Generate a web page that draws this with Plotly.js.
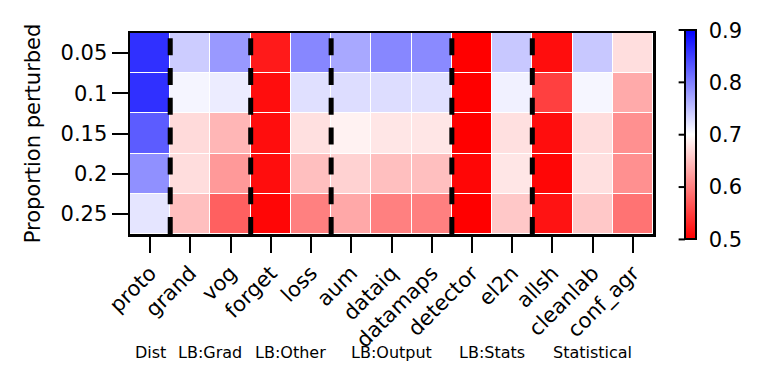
<!DOCTYPE html>
<html>
<head>
<meta charset="utf-8">
<script src="https://cdn.plot.ly/plotly-3.0.1.min.js"></script>
<style>
  html, body { margin: 0; padding: 0; background: #fff; }
</style>
</head>
<body>
<div id="chart" style="width:762px;height:382px;"></div>
<script>
var methods = ['proto', 'grand', 'vog', 'forget', 'loss', 'aum', 'dataiq', 'datamaps',
               'detector', 'el2n', 'allsh', 'cleanlab', 'conf_agr'];
var proportions = ['0.05', '0.1', '0.15', '0.2', '0.25'];

// one row per proportion perturbed, same order as methods
var p05 = [0.862, 0.740, 0.780, 0.520, 0.794, 0.768, 0.794, 0.792, 0.500, 0.743, 0.510, 0.743, 0.674];
var p10 = [0.862, 0.708, 0.715, 0.510, 0.724, 0.727, 0.727, 0.724, 0.500, 0.711, 0.550, 0.707, 0.633];
var p15 = [0.828, 0.671, 0.643, 0.510, 0.676, 0.690, 0.680, 0.680, 0.500, 0.676, 0.510, 0.673, 0.613];
var p20 = [0.787, 0.673, 0.620, 0.510, 0.650, 0.665, 0.650, 0.650, 0.505, 0.680, 0.505, 0.676, 0.613];
var p25 = [0.720, 0.650, 0.575, 0.505, 0.600, 0.632, 0.600, 0.600, 0.500, 0.657, 0.515, 0.657, 0.590];

var groupNames = ['Dist', 'LB:Grad', 'LB:Other', 'LB:Output', 'LB:Stats', 'Statistical'];
var groupSizes = [1, 2, 2, 3, 2, 3];

var cbTicks = [0.5, 0.6, 0.7, 0.8, 0.9];
var zmin = 0.5, zmax = 0.9;

var font = 'DejaVu Sans, sans-serif';

// colorbar placement (paper units)
var cbX = 1.061, cbLen = 1.042, cbMid = 0.494;
var cbBottom = cbMid - cbLen / 2;

// separators and group label positions (in category index units)
var shapes = [];
var annotations = [];
var start = 0;
for (var i = 0; i < groupSizes.length; i++) {
  var end = start + groupSizes[i];
  annotations.push({
    x: (start + end - 1) / 2, xref: 'x',
    y: -0.59, yref: 'paper', yanchor: 'middle',
    text: groupNames[i], showarrow: false,
    font: {family: font, size: 16, color: 'black'}
  });
  if (i < groupSizes.length - 1) {
    shapes.push({
      type: 'line', xref: 'x', yref: 'paper',
      x0: end - 0.5, x1: end - 0.5, y0: 0, y1: 1,
      line: {color: 'black', width: 5, dash: '17px,12.8px'}
    });
  }
  start = end;
}

// colorbar ticks sit on the left side of the bar, like matplotlib
cbTicks.forEach(function (v) {
  var yy = cbBottom + (v - zmin) / (zmax - zmin) * cbLen;
  shapes.push({
    type: 'line', xref: 'paper', yref: 'paper',
    x0: cbX - 0.012, x1: cbX, y0: yy, y1: yy,
    line: {color: 'black', width: 2}
  });
});

var trace = {
  type: 'heatmap',
  x: methods,
  y: proportions,
  z: [p05, p10, p15, p20, p25],
  zmin: zmin, zmax: zmax,
  colorscale: [[0, 'rgb(255,0,0)'], [0.5, 'rgb(255,255,255)'], [1, 'rgb(0,0,255)']],
  xgap: 1, ygap: 1,
  colorbar: {
    x: cbX, xanchor: 'left', xpad: 0,
    y: cbMid, yanchor: 'middle', len: cbLen, lenmode: 'fraction',
    thickness: 11, ypad: 0,
    outlinewidth: 2, outlinecolor: 'black',
    tickvals: cbTicks, ticktext: cbTicks.map(function (v) { return v.toFixed(1); }),
    ticks: 'outside', ticklen: 8, tickwidth: 2, tickcolor: 'rgba(0,0,0,0)',
    tickfont: {family: font, size: 21, color: 'black'}
  }
};

var layout = {
  width: 762, height: 382,
  margin: {l: 130, r: 109, t: 33, b: 148, pad: 0},
  paper_bgcolor: 'white', plot_bgcolor: 'white',
  font: {family: font, size: 21, color: 'black'},
  xaxis: {
    type: 'category', tickangle: -45,
    ticks: 'outside', ticklen: 16, tickwidth: 2, tickcolor: 'black',
    showline: true, linewidth: 2.5, linecolor: 'black', mirror: true,
    showgrid: false, zeroline: false,
    tickfont: {family: font, size: 21, color: 'black'}
  },
  yaxis: {
    type: 'category', autorange: 'reversed',
    ticks: 'outside', ticklen: 16, tickwidth: 2, tickcolor: 'black',
    showline: true, linewidth: 2.5, linecolor: 'black', mirror: true,
    showgrid: false, zeroline: false,
    tickfont: {family: font, size: 21, color: 'black'},
    title: {text: 'Proportion perturbed', standoff: 14, font: {family: font, size: 21, color: 'black'}}
  },
  shapes: shapes,
  annotations: annotations
};

Plotly.newPlot('chart', [trace], layout, {displayModeBar: false, staticPlot: true});
</script>
</body>
</html>
